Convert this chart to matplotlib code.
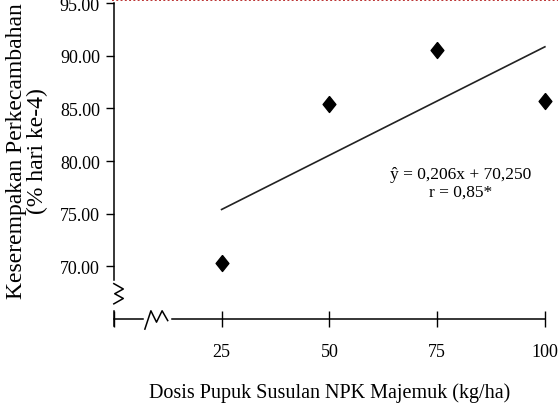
import matplotlib
matplotlib.use('Agg')
import matplotlib.pyplot as plt
import numpy as np

# Data: dose of NPK (kg/ha) vs germination uniformity (% on day 4)
dosis = [25, 50, 75, 100]
keserempakan = [70.3, 85.4, 90.5, 85.7]
slope = 0.206
intercept = 70.250
r_value = '0,85*'
yticks = [70, 75, 80, 85, 90, 95]
xticks = [0, 25, 50, 75, 100]
xticklabels = ['', '25', '50', '75', '100']

plt.rcParams['font.family'] = ['Liberation Serif', 'DejaVu Serif']

fig = plt.figure(figsize=(5.58, 4.10), dpi=100)
ax = fig.add_axes([0.204, 0.2195, 0.7725, 0.7705])

# diamond marker, a bit taller than wide
diamond = [(0, 1), (0.8, 0), (0, -1), (-0.8, 0), (0, 1)]
ax.plot(dosis, keserempakan, linestyle='none', marker=diamond,
        markersize=11.5, color='black', clip_on=False, zorder=3)

# regression line
xl = np.array([dosis[0], dosis[-1]])
ax.plot(xl, slope * xl + intercept, color='#222222', lw=1.2, clip_on=False)

ax.text(0.805, 0.459, 'ŷ = 0,206x + 70,250', transform=ax.transAxes,
        ha='center', va='center', fontsize=12.5)
ax.text(0.805, 0.402, 'r = ' + r_value, transform=ax.transAxes,
        ha='center', va='center', fontsize=12.5)

ax.set_xlim(0, 100)
ax.set_ylim(65, 95)
ax.set_yticks(yticks)
ax.set_yticklabels(['%.2f' % v for v in yticks])
ax.set_xticks(xticks)
ax.set_xticklabels(xticklabels)
ax.tick_params(axis='y', direction='out', length=6, width=1, labelsize=13, pad=4)
ax.tick_params(axis='x', direction='inout', length=11, width=1, labelsize=13, pad=12)

for s in ['top', 'right', 'bottom', 'left']:
    ax.spines[s].set_visible(False)

# axes with break marks drawn by hand (axes coordinates)
kw = dict(transform=ax.transAxes, color='black', lw=1.1, clip_on=False)
# y axis: long segment, zigzag, short stub at origin
ax.plot([0, 0], [1.0, 0.125], **kw)
ax.plot([0.0, 0.022, 0.002, 0.022, 0.0],
        [0.112, 0.095, 0.08, 0.065, 0.048], **kw)
ax.plot([0, 0], [0.026, -0.022], **kw)
# x axis: stub, zigzag, long segment
ax.plot([0.0, 0.067], [0, 0], **kw)
ax.plot([0.072, 0.086, 0.099, 0.112, 0.125],
        [-0.032, 0.026, -0.01, 0.026, -0.005], **kw)
ax.plot([0.135, 1.0], [0, 0], **kw)

ax.set_xlabel('Dosis Pupuk Susulan NPK Majemuk (kg/ha)', fontsize=14.5, labelpad=16)
ax.set_ylabel('Keserempakan Perkecambahan\n(% hari ke-4)', fontsize=17,
              linespacing=1.0)
ax.yaxis.set_label_coords(-0.152, 0.535)

# dotted red border along the top edge
fig.add_artist(plt.Line2D([0.2, 1.0], [0.997, 0.997], transform=fig.transFigure,
                          color='#b33', lw=1.4, linestyle=(0, (1, 1.2))))

fig.savefig('out.png', dpi=100)
